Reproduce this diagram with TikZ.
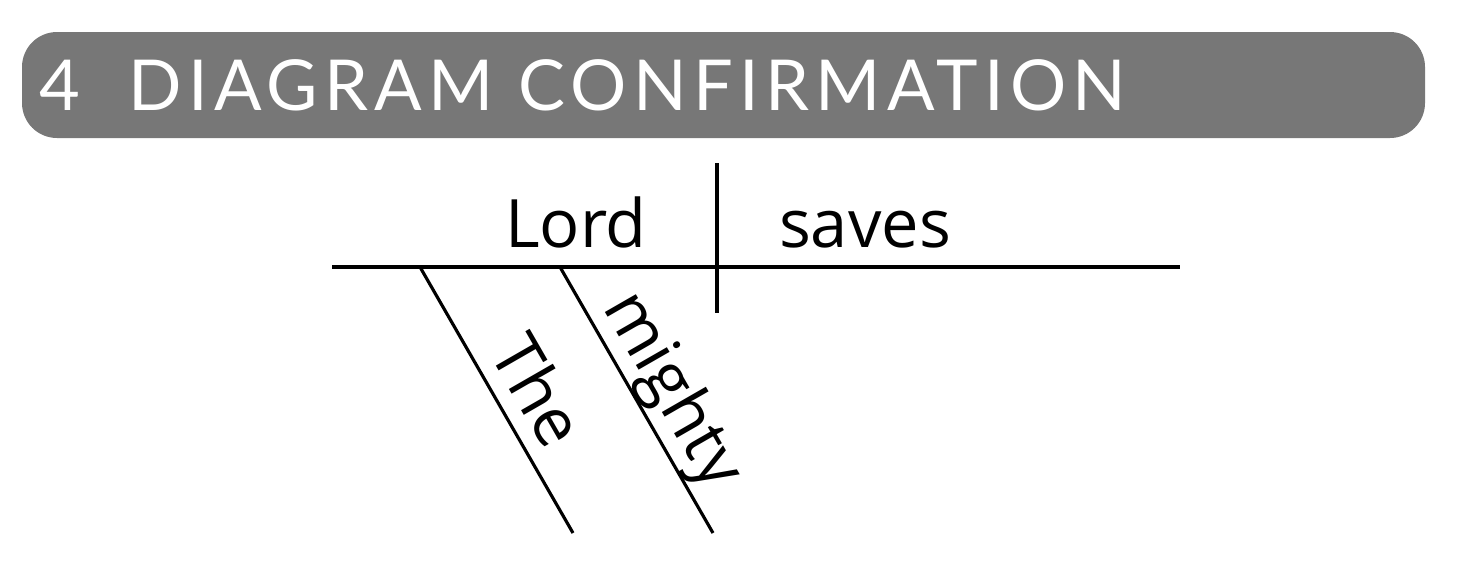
\documentclass[tikz,border=0pt]{standalone}
\usepackage{fontspec}
\usepackage{xcolor}
\usepackage{tikz}
\setmainfont{Open Sans}
\newfontfamily\headfont[LetterSpace=9]{Lato}
\definecolor{bannergrey}{HTML}{777777}

\begin{document}
\begin{tikzpicture}[line width=0.9pt,
  word/.style={font=\fontsize{19}{22}\selectfont, inner sep=0pt}]
\useasboundingbox (0,0) rectangle (14.58,5.76);
\fill[bannergrey, rounded corners=0.35cm] (0.22,4.38) rectangle (14.25,5.44);
\node(H) [anchor=base west, text=white, inner sep=0pt, font=\headfont\fontsize{20}{24}\selectfont] at (0.38,4.66) {4\hspace{0.48cm}DIAGRAM CONFIRMATION};

\coordinate(L0) at (3.32,3.09);
\coordinate(L1) at (11.80,3.09);
\coordinate(V0) at (7.17,4.13);
\coordinate(V1) at (7.17,2.63);
\coordinate(T0) at (4.20,3.09);
\coordinate(T1) at (5.73,0.43);
\coordinate(M0) at (5.60,3.09);
\coordinate(M1) at (7.13,0.43);

\node(Lord)  [word, anchor=base] at (5.76,3.29) {Lord};
\node(saves) [word, anchor=base] at (8.65,3.29) {saves};

\draw (L0) -- (L1);
\draw (V0) -- (V1);
\draw (T0) -- node(The) [word, sloped, above=0.15cm, pos=0.54, text depth=0pt] {The} (T1);
\draw (M0) -- node(mighty) [word, sloped, above=0.15cm, pos=0.53, text depth=0pt] {mighty} (M1);
\end{tikzpicture}
\end{document}
